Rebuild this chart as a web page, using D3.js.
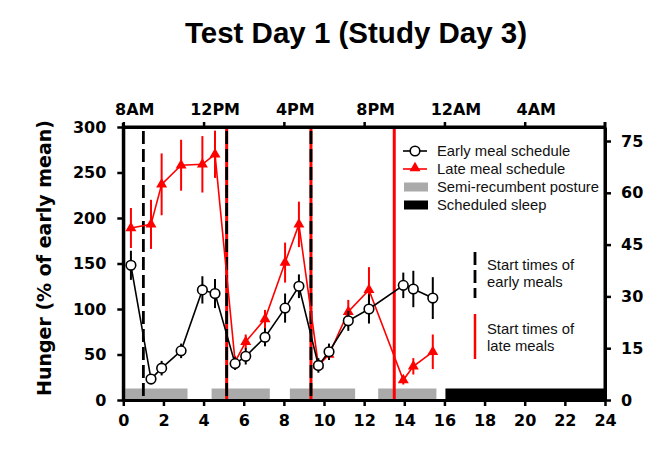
<!DOCTYPE html>
<html><head><meta charset="utf-8">
<script src="https://cdn.jsdelivr.net/npm/d3@7"></script>
<style>
html,body{margin:0;padding:0;background:#fff;}
svg{display:block;}
</style></head>
<body>
<svg id="chart" width="664" height="456"></svg>
<script>
// ---- data ----
const hours      = [0.38,1.38,1.91,2.88,3.94,4.57,5.57,6.10,7.06,8.06,8.75,9.72,10.25,11.21,12.24,13.95,14.45,15.42];
const earlyMean  = [148, 23, 35, 54,121,117, 40, 48, 69,101,125, 38, 53, 87,100,126,122,112];
const earlySem   = [ 16,  4,  8,  8, 15, 16,  7,  9, 10, 16, 13,  8,  9, 11, 16, 14, 20, 23];
const lateMean   = [189,193,237,258,259,270, 42, 64, 89,151,193, 38, 50, 97,121, 22, 37, 53];
const lateSem    = [ 22, 27, 34, 28, 31, 26,  6,  8, 10, 22, 25,  5,  6, 13, 25,  5,  9, 19];
const earlyMealStarts = [1.0, 5.15, 9.35];
const lateMealStarts  = [5.15, 9.35, 13.5];
const postureStart = [0.1, 4.4, 8.3, 12.7];
const postureEnd   = [3.2, 7.3, 11.55, 15.6];
const sleepStart = [16.05];
const sleepEnd   = [24];
const bottomTicks = [0,2,4,6,8,10,12,14,16,18,20,22,24];
const leftTicks   = [0,50,100,150,200,250,300];
const rightTicks  = [0,15,30,45,60,75];
const topTicks    = [0,4,8,12,16,20];
const topLabels   = ["8AM","12PM","4PM","8PM","12AM","4AM"];
const legendLabels = ["Early meal schedule","Late meal schedule","Semi-recumbent posture","Scheduled sleep"];
const noteEarly = ["Start times of","early meals"];
const noteLate  = ["Start times of","late meals"];
const title = "Test Day 1 (Study Day 3)";
const yTitle = "Hunger (% of early mean)";

// ---- layout ----
const svg = d3.select("#chart");
const X0 = 123.3, X1 = 605, YB = 400, YT = 127;
const x = d3.scaleLinear().domain([0,24]).range([X0,X1]);
const y = d3.scaleLinear().domain([0,300]).range([YB,YT]);
const yR = d3.scaleLinear().domain([0,75*(YB-YT)/(YB-141)]).range([YB,YT]);
const RED = "#ff0000";
const bold = "'DejaVu Sans', sans-serif";
const arial = "'Liberation Sans', Arial, sans-serif";

// title
svg.append("text").attr("x",356).attr("y",43).attr("text-anchor","middle")
  .attr("font-family",arial).attr("font-weight","bold").attr("font-size",29.5)
  .attr("fill","#000").text(title);

// y title
svg.append("text").attr("transform","translate(51,258) rotate(-90)")
  .attr("text-anchor","middle").attr("font-family",bold).attr("font-weight","bold")
  .attr("font-size",19).attr("fill","#000").text(yTitle);

// posture bars
const barH = 11.5;
svg.append("g").selectAll("rect").data(postureStart).join("rect")
  .attr("x",(d)=>x(d)).attr("width",(d,i)=>x(postureEnd[i])-x(d))
  .attr("y",YB-barH).attr("height",barH).attr("fill","#aaaaaa");
svg.append("g").selectAll("rect").data(sleepStart).join("rect")
  .attr("x",(d)=>x(d)).attr("width",(d,i)=>x(sleepEnd[i])-x(d))
  .attr("y",YB-barH).attr("height",barH).attr("fill","#000");

// meal start lines
const vg = svg.append("g");
vg.selectAll("line.late").data(lateMealStarts).join("line").attr("class","late")
  .attr("x1",d=>x(d)).attr("x2",d=>x(d)).attr("y1",YT).attr("y2",YB)
  .attr("stroke",RED).attr("stroke-width",3);
vg.selectAll("line.early").data(earlyMealStarts).join("line").attr("class","early")
  .attr("x1",d=>x(d)).attr("x2",d=>x(d)).attr("y1",YT).attr("y2",YB)
  .attr("stroke","#000").attr("stroke-width",2.8).attr("stroke-dasharray","13,5")
  .attr("stroke-dashoffset",-4);

// series
function drawSeries(means, sems, color, kind){
  const g = svg.append("g");
  const pts = hours.map((h,i)=>[h,means[i],sems[i]]);
  g.append("path").datum(pts)
    .attr("d", d3.line().x(d=>x(d[0])).y(d=>y(d[1])))
    .attr("fill","none").attr("stroke",color).attr("stroke-width",1.6);
  g.selectAll("line.err").data(pts).join("line").attr("class","err")
    .attr("x1",d=>x(d[0])).attr("x2",d=>x(d[0]))
    .attr("y1",d=>y(d[1]-d[2])).attr("y2",d=>y(d[1]+d[2]))
    .attr("stroke",color).attr("stroke-width",2);
  if(kind==="circle"){
    g.selectAll("circle").data(pts).join("circle")
      .attr("cx",d=>x(d[0])).attr("cy",d=>y(d[1])).attr("r",4.8)
      .attr("fill","#fff").attr("stroke",color).attr("stroke-width",1.6);
  } else {
    g.selectAll("path.m").data(pts).join("path").attr("class","m")
      .attr("transform",d=>`translate(${x(d[0])},${y(d[1])})`)
      .attr("d", d3.symbol(d3.symbolTriangle,52)()).attr("fill",color);
  }
}
drawSeries(lateMean, lateSem, RED, "tri");
drawSeries(earlyMean, earlySem, "#000", "circle");

// axes
function styleAxis(g){
  g.select(".domain").attr("stroke","#000").attr("stroke-width",3);
  g.selectAll(".tick line").attr("stroke","#000").attr("stroke-width",2.5);
  g.selectAll(".tick text").attr("font-family",bold).attr("font-weight","bold")
    .attr("font-size",16).attr("fill","#000");
}
svg.append("g").attr("transform",`translate(0,${YB})`)
  .call(d3.axisBottom(x).tickValues(bottomTicks).tickSize(6).tickSizeOuter(0).tickPadding(9))
  .call(styleAxis);
svg.append("g").attr("transform",`translate(0,${YT})`)
  .call(d3.axisTop(x).tickValues(topTicks).tickFormat((d,i)=>topLabels[i]).tickSize(5).tickSizeOuter(0).tickPadding(7))
  .call(styleAxis)
  .call(g=>g.selectAll(".tick text").attr("dx",11));
svg.append("g").attr("transform",`translate(${X0},0)`)
  .call(d3.axisLeft(y).tickValues(leftTicks).tickSize(6).tickSizeOuter(0).tickPadding(11))
  .call(styleAxis);
svg.append("g").attr("transform",`translate(${X1},0)`)
  .call(d3.axisRight(yR).tickValues(rightTicks).tickSize(6).tickSizeOuter(0).tickPadding(10))
  .call(styleAxis);
// frame lines (top edge and slight extension of side axes)
svg.append("line").attr("x1",X0).attr("x2",X1).attr("y1",YT).attr("y2",YT).attr("stroke","#000").attr("stroke-width",3);
svg.append("line").attr("x1",X0).attr("x2",X0).attr("y1",YT-4).attr("y2",YB+1.5).attr("stroke","#000").attr("stroke-width",3);
svg.append("line").attr("x1",X1).attr("x2",X1).attr("y1",YT-5).attr("y2",YB+1.5).attr("stroke","#000").attr("stroke-width",3);

// legend
const lg = svg.append("g").attr("font-family",arial).attr("font-size",14.8).attr("fill","#111");
const lY = [151,169,187,205];
lg.append("line").attr("x1",403).attr("x2",427).attr("y1",lY[0]).attr("y2",lY[0]).attr("stroke","#000").attr("stroke-width",1.6);
lg.append("circle").attr("cx",415).attr("cy",lY[0]).attr("r",4.8).attr("fill","#fff").attr("stroke","#000").attr("stroke-width",1.6);
lg.append("line").attr("x1",403).attr("x2",427).attr("y1",lY[1]).attr("y2",lY[1]).attr("stroke",RED).attr("stroke-width",1.6);
lg.append("path").attr("transform",`translate(415,${lY[1]-1})`).attr("d",d3.symbol(d3.symbolTriangle,52)()).attr("fill",RED);
lg.append("rect").attr("x",404).attr("y",lY[2]-4.5).attr("width",24).attr("height",9).attr("fill","#aaaaaa");
lg.append("rect").attr("x",404).attr("y",lY[3]-4.5).attr("width",24).attr("height",9).attr("fill","#000");
lg.selectAll("text").data(legendLabels).join("text")
  .attr("x",437).attr("y",(d,i)=>lY[i]+5).text(d=>d);

// meal-time notes
svg.append("line").attr("x1",475).attr("x2",475).attr("y1",252).attr("y2",298)
  .attr("stroke","#000").attr("stroke-width",2.8).attr("stroke-dasharray","13,5");
svg.append("line").attr("x1",475).attr("x2",475).attr("y1",314).attr("y2",359)
  .attr("stroke",RED).attr("stroke-width",2.5);
const ng = svg.append("g").attr("font-family",arial).attr("font-size",14.8).attr("fill","#111");
ng.selectAll("text.e").data(noteEarly).join("text").attr("class","e")
  .attr("x",487).attr("y",(d,i)=>269.5+i*17.4).text(d=>d);
ng.selectAll("text.l").data(noteLate).join("text").attr("class","l")
  .attr("x",487).attr("y",(d,i)=>333.5+i*17.4).text(d=>d);
</script>
</body></html>
